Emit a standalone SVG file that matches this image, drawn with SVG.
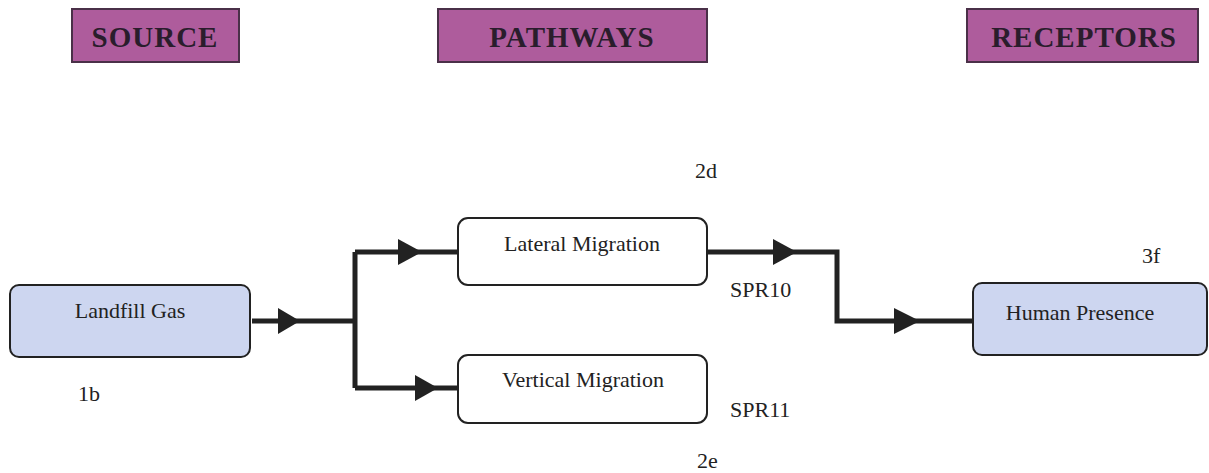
<svg xmlns="http://www.w3.org/2000/svg" width="1209" height="473" viewBox="0 0 1209 473">
<style>
.hdr{fill:#ae5c9c;stroke:#4a3048;stroke-width:2}
.hdrt{font-family:"Liberation Serif",serif;font-weight:bold;font-size:29px;letter-spacing:1px;fill:#2a1d2c;text-anchor:middle}
.blue{fill:#cdd6f0;stroke:#222;stroke-width:2}
.white{fill:#fff;stroke:#222;stroke-width:2}
.nt{font-family:"Liberation Serif",serif;font-size:22px;fill:#222;text-anchor:middle}
.lbl{font-family:"Liberation Serif",serif;font-size:22px;fill:#222}
.ln{fill:none;stroke:#222;stroke-width:5}
.ah{fill:#222}
</style>
<rect width="1209" height="473" fill="#fff"/>
<g id="source"><rect class="hdr" x="72" y="9" width="167" height="53"/><text class="hdrt" x="155" y="47">SOURCE</text></g>
<g id="pathways"><rect class="hdr" x="438" y="9" width="269" height="53"/><text class="hdrt" x="572" y="47" letter-spacing="2">PATHWAYS</text></g>
<g id="receptors"><rect class="hdr" x="967" y="9" width="231" height="53"/><text class="hdrt" x="1084" y="47">RECEPTORS</text></g>
<g id="connectors">
<path class="ln" d="M252 321 H355 M355 252 V388 M355 252 H458 M355 388 H459"/>
<path class="ln" d="M700 252 H837 V321 H975"/>
<polygon class="ah" points="278,308 300,321 278,334"/>
<polygon class="ah" points="398,239 422,252 398,265"/>
<polygon class="ah" points="415,375 438,388 415,401"/>
<polygon class="ah" points="773,239 797,252 773,265"/>
<polygon class="ah" points="894,308 920,321 894,334"/>
</g>
<g id="landfill"><rect class="blue" x="10" y="285" width="240" height="72" rx="9"/><text class="nt" x="130" y="318">Landfill Gas</text></g>
<g id="lateral"><rect class="white" x="458" y="218" width="249" height="67" rx="10"/><text class="nt" x="582" y="251">Lateral Migration</text></g>
<g id="vertical"><rect class="white" x="458" y="355" width="249" height="68" rx="10"/><text class="nt" x="583" y="387">Vertical Migration</text></g>
<g id="human"><rect class="blue" x="973" y="283" width="234" height="72" rx="9"/><text class="nt" x="1080" y="320">Human Presence</text></g>
<g id="labels">
<text class="lbl" x="695" y="178">2d</text>
<text class="lbl" x="1142" y="263">3f</text>
<text class="lbl" x="730" y="297" font-size="23">SPR10</text>
<text class="lbl" x="730" y="417" font-size="23">SPR11</text>
<text class="lbl" x="78" y="401">1b</text>
<text class="lbl" x="697" y="468">2e</text>
</g>
</svg>
